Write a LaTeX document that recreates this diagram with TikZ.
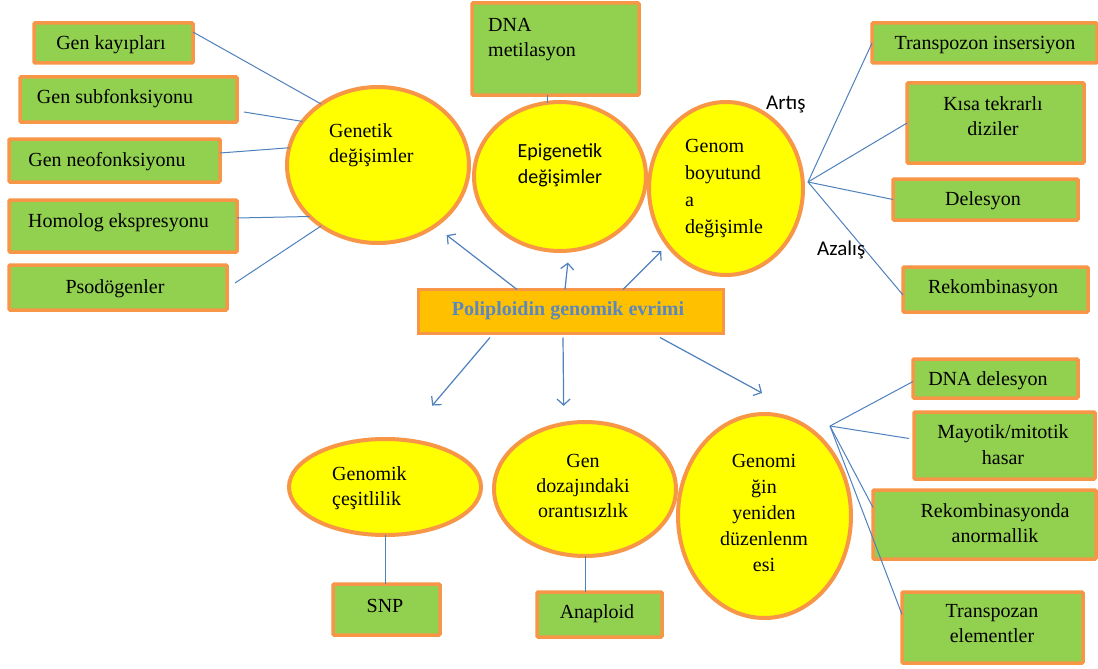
\documentclass[tikz,border=0pt]{standalone}
\usepackage{fontspec}
\setmainfont{Liberation Serif}
\newfontfamily\carl{Carlito}
\usetikzlibrary{shapes.geometric,arrows.meta}
\definecolor{lineblue}{HTML}{4F81BD}
\definecolor{boxgreen}{HTML}{92D050}
\definecolor{bord}{HTML}{F79646}
\definecolor{ellyellow}{HTML}{FFFF00}
\definecolor{centfill}{HTML}{FFC000}
\definecolor{titleblue}{HTML}{5B87C0}
\begin{document}
\begin{tikzpicture}[x=1pt,y=-1pt,
  gbox/.style={draw=bord, fill=boxgreen, line width=3.5pt, rounded corners=1pt, inner sep=0pt, outer sep=0pt, anchor=north west},
  ell/.style={ellipse, draw=bord, fill=ellyellow, line width=4pt, inner sep=0pt, outer sep=0pt},
  txt/.style={inner sep=0pt, font=\fontsize{20}{25}\selectfont},
  conn/.style={draw=lineblue, line width=1pt},
  arr/.style={draw=lineblue, line width=1.2pt, -{Straight Barb[length=6pt,width=13pt]}},
]
\fill[white] (0,0) rectangle (1098,669);
\useasboundingbox (0,0) rectangle (1098,669);

% ellipses
\node[ell, minimum width=182pt, minimum height=156pt] (gen) at (378,165) {};
\node[ell, minimum width=172pt, minimum height=149pt] (epi) at (560,176.5) {};
\node[ell, minimum width=154pt, minimum height=173pt] (gb) at (726,188.5) {};
\node[ell, minimum width=192pt, minimum height=96pt] (gc) at (385,487) {};
\node[ell, minimum width=182pt, minimum height=134pt] (gd) at (585,489) {};
\node[ell, minimum width=173pt, minimum height=204pt] (gy) at (764.5,516) {};

% green boxes
\node[gbox, minimum width=159pt, minimum height=40pt] (k1) at (34,23) {};
\node[gbox, minimum width=217pt, minimum height=45pt] (k2) at (20,77) {};
\node[gbox, minimum width=211pt, minimum height=43pt] (k3) at (9,139) {};
\node[gbox, minimum width=228pt, minimum height=52pt] (k4) at (9,200) {};
\node[gbox, minimum width=218pt, minimum height=45pt] (k5) at (9,265) {};
\node[gbox, minimum width=167pt, minimum height=92pt] (dm) at (472,3) {};
\node[gbox, minimum width=225pt, minimum height=40pt] (tp) at (872,23) {};
\node[gbox, minimum width=177pt, minimum height=80pt] (kt) at (907,83) {};
\node[gbox, minimum width=185pt, minimum height=41pt] (dl) at (893,179) {};
\node[gbox, minimum width=185pt, minimum height=45pt] (rk) at (903,267) {};
\node[gbox, minimum width=165pt, minimum height=39pt] (dd) at (913,359) {};
\node[gbox, minimum width=181pt, minimum height=67pt] (mh) at (914,412) {};
\node[gbox, minimum width=223pt, minimum height=69pt] (ra) at (873,490) {};
\node[gbox, minimum width=181pt, minimum height=71pt] (te) at (902,592) {};
\node[gbox, minimum width=107pt, minimum height=51pt] (snp) at (333,584) {};
\node[gbox, minimum width=125pt, minimum height=45pt] (an) at (537,592) {};

% central box
\node[draw=bord, fill=centfill, line width=3pt, minimum width=305pt, minimum height=44pt, anchor=north west, inner sep=0pt, outer sep=0pt] (pg) at (418.5,289.5) {};

% connectors left
\draw[conn] ([yshift=11pt]k1.east) -- (gen.133);
\draw[conn] ([xshift=7pt,yshift=-12.5pt]k2.east) -- (gen.150);
\draw[conn] ([yshift=7.5pt]k3.east) -- (gen.169);
\draw[conn] ([yshift=8pt]k4.east) -- (gen.217);
\draw[conn] ([xshift=8pt,yshift=4.5pt]k5.east) -- (gen.227);
\draw[conn] ([xshift=-8.5pt]dm.south) -- ([xshift=-8.5pt]dm.south |- epi.99);

% right hubs
\coordinate (h1) at (808,182);
\draw[conn] (h1) -- (tp.west);
\draw[conn] (h1) -- (kt.west);
\draw[conn] (h1) -- (dl.west);
\draw[conn] (h1) -- ([yshift=-5.5pt]rk.west);
\coordinate (h2) at (830,426);
\draw[conn] (h2) -- ([yshift=-3pt]dd.west);
\draw[conn] (h2) -- ([xshift=-5pt,yshift=7pt]mh.west);
\draw[conn] (h2) -- ([yshift=17pt]ra.west);
\draw[conn] (h2) -- ([yshift=13pt]te.west);

% bottom
\draw[conn] (gc.south) -- (gc.south |- snp.north);
\draw[conn] (gd.south) -- (gd.south |- an.north);

% arrows
\draw[arr, shorten >=15pt] ([xshift=-54pt]pg.north) -- (gen.313);
\draw[arr, shorten >=12pt] ([xshift=-6pt]pg.north) -- (epi.277);
\draw[arr, shorten >=9pt] ([xshift=52pt]pg.north) -- (gb.224);
\draw[arr, shorten >=45pt] ([xshift=-81pt,yshift=-4pt]pg.south) -- (gc.69);
\draw[arr, shorten >=18pt] ([xshift=-8pt,yshift=-4pt]pg.south) -- (gd.108);
\coordinate (t3) at (762,393);
\draw[arr] ([xshift=89pt,yshift=-4pt]pg.south) -- (t3);

% texts
\node[txt, anchor=base] (k1t) at (111,50) {Gen kayıpları};
\node[txt, anchor=base] (k2t) at (115,103) {Gen subfonksiyonu};
\node[txt, anchor=base] (k3t) at (107,166) {Gen neofonksiyonu};
\node[txt, anchor=base] (k4t) at (118.5,227) {Homolog ekspresyonu};
\node[txt, anchor=base] (k5t) at (115,293) {Psodögenler};
\node[txt, align=left, anchor=north west] (dmt) at (488,18.5) {DNA\\metilasyon};

\node[txt, align=left, anchor=north west] (gent) at (329,123.5) {Genetik\\değişimler};
\node[txt, align=center, anchor=north, font=\carl\fontsize{20}{26}\selectfont] (epit) at (560,143.5) {Epigenetik\\değişimler};
\node[txt, align=left, anchor=north west, font=\fontsize{20}{27}\selectfont] (gbt) at (685,139.5) {Genom\\boyutund\\a\\değişimle};

\node[txt, anchor=base west, font=\carl\fontsize{21}{25}\selectfont] (art) at (766,110) {Artış};
\node[txt, anchor=base west, font=\carl\fontsize{21}{25}\selectfont] (aza) at (817,255) {Azalış};

\node[txt, anchor=base] (tpt) at (985,50) {Transpozon insersiyon};
\node[txt, align=center, anchor=north] (ktt) at (993,96.5) {Kısa tekrarlı\\diziler};
\node[txt, anchor=base] (dlt) at (983,205) {Delesyon};
\node[txt, anchor=base] (rkt) at (993,293) {Rekombinasyon};

\node[txt, anchor=base, font=\bfseries\fontsize{20}{25}\selectfont, text=titleblue] (pgt) at (568,315) {Poliploidin genomik evrimi};

\node[txt, align=left, anchor=north west] (gct) at (332,466.5) {Genomik\\çeşitlilik};
\node[txt, align=center, anchor=north] (gdt) at (583,454.5) {Gen\\dozajındaki\\orantısızlık};
\node[txt, align=center, anchor=north, font=\fontsize{20}{26}\selectfont] (gyt) at (764,454.5) {Genomi\\ğin\\yeniden\\düzenlenm\\esi};

\node[txt, anchor=base] (ddt) at (988,385) {DNA delesyon};
\node[txt, align=center, anchor=north, font=\fontsize{20}{26}\selectfont] (mht) at (1003,424.5) {Mayotik/mitotik\\hasar};
\node[txt, align=center, anchor=north] (rat) at (995,503.5) {Rekombinasyonda\\anormallik};
\node[txt, align=center, anchor=north] (tet) at (992,604.5) {Transpozan\\elementler};

\node[txt, anchor=base] (snpt) at (385,612) {SNP};
\node[txt, anchor=base] (ant) at (597,618) {Anaploid};
\end{tikzpicture}
\end{document}
